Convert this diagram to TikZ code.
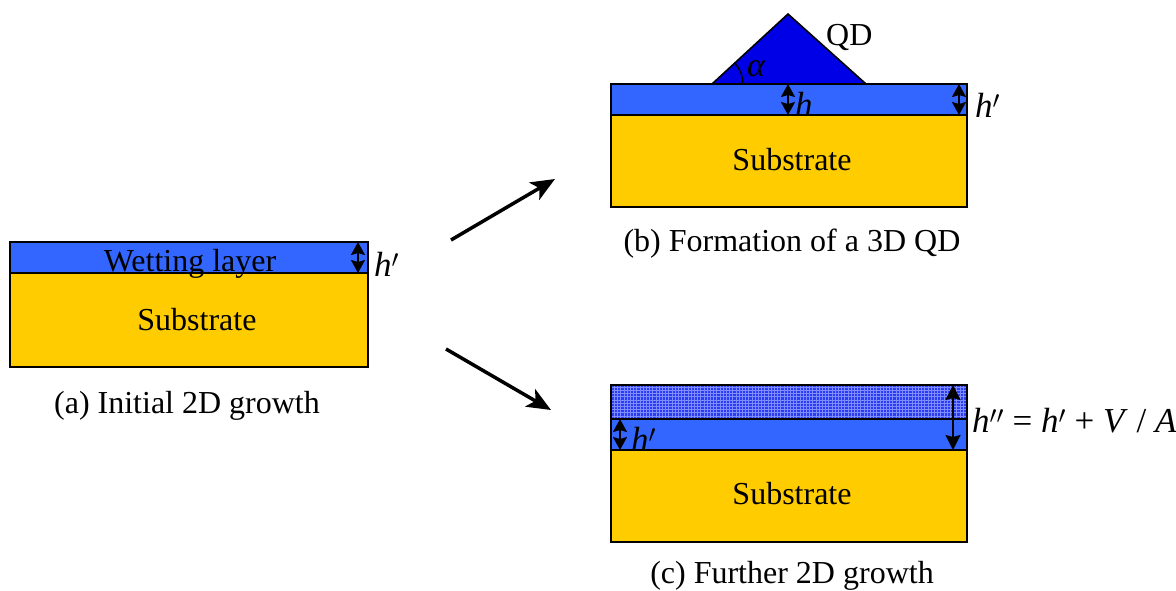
\documentclass[tikz,border=0pt]{standalone}
\usepackage{fontspec}
\setmainfont{Liberation Serif}
\usetikzlibrary{arrows.meta}
\definecolor{wl}{HTML}{3366FF}
\definecolor{qd}{HTML}{0000E6}
\definecolor{sub}{HTML}{FFCC00}
\definecolor{pat}{HTML}{2B3DF2}
\definecolor{patl}{HTML}{7F8CFF}
\tikzset{
  layer/.style={draw=black, line width=1.6pt},
  txt/.style={font=\fontsize{32}{38}\selectfont, inner sep=0pt},
  lbl/.style={font=\fontsize{35}{40}\selectfont, inner sep=0pt, anchor=west},
  dimarr/.style={line width=1.8pt, {Stealth[length=13pt,width=14pt,inset=2pt]}-{Stealth[length=13pt,width=14pt,inset=2pt]}},
  bigarr/.style={line width=3.5pt, -{Stealth[length=24pt,width=20pt,inset=6pt]}},
}
\begin{document}
\begin{tikzpicture}[x=1pt,y=-1pt]
\useasboundingbox (0,0) rectangle (1176,590);
% ---------- (a)
\filldraw[layer, fill=sub] (10,273) rectangle (368,367);
\filldraw[layer, fill=wl] (10,242) rectangle (368,273);
\node[txt] (wet) at (190,264) {Wetting layer};
\node[txt] (suba) at (197,320) {Substrate};
\coordinate (a1) at (358,242); \coordinate (a2) at (358,273);
\draw[dimarr] (a1) -- (a2);
\node[lbl] (hpa) at (374,264) {\textit{h}$'$};
\node[txt] (capa) at (187,406) {(a) Initial 2D growth};
% ---------- (b)
\filldraw[layer, fill=qd] (712,84) -- (788,14) -- (866,84) -- cycle;
\filldraw[layer, fill=sub] (611,115) rectangle (967,207);
\filldraw[layer, fill=wl] (611,84) rectangle (967,115);
\coordinate (qbl) at (712,84);
\draw[line width=1.4pt] ([xshift=31pt]qbl) arc[start angle=0, end angle=42.6, radius=31pt];
\node[font=\fontsize{34}{38}\selectfont\itshape, inner sep=0pt] (alpha) at (756,69) {α};
\node[txt, anchor=west] (qdl) at (826,37) {QD};
\coordinate (b1) at (788,84); \coordinate (b2) at (788,115);
\draw[dimarr] (b1) -- (b2);
\node[lbl] (hb) at (795,104) {\textit{h}};
\coordinate (b3) at (959,84); \coordinate (b4) at (959,115);
\draw[dimarr] (b3) -- (b4);
\node[lbl] (hpb) at (975,105) {\textit{h}$'$};
\node[txt] (subb) at (792,160) {Substrate};
\node[txt] (capb) at (792,244) {(b) Formation of a 3D QD};
% ---------- (c)
\filldraw[layer, fill=sub] (611,450) rectangle (967,542);
\fill[pat] (611,385) rectangle (967,419);
\begin{scope}
\clip (611,385) rectangle (967,419);
\draw[patl, line width=0.7pt, step=3.2pt] (611,385) grid (967,419);
\end{scope}
\draw[layer] (611,385) rectangle (967,419);
\filldraw[layer, fill=wl] (611,419) rectangle (967,450);
\coordinate (c1) at (620,419); \coordinate (c2) at (620,450);
\draw[dimarr] (c1) -- (c2);
\node[lbl] (hpc) at (631,439) {\textit{h}$'$};
\coordinate (c3) at (953,385); \coordinate (c4) at (953,450);
\draw[line width=2.2pt, {Stealth[length=15pt,width=15pt,inset=2pt]}-{Stealth[length=15pt,width=15pt,inset=2pt]}] (c3) -- (c4);
\node[lbl] (hpp) at (972,421) {\textit{h}$''$ = \textit{h}$'$ + \textit{V} / \textit{A}};
\node[txt] (subc) at (792,494) {Substrate};
\node[txt] (capc) at (792,576) {(c) Further 2D growth};
% ---------- big arrows
\coordinate (p1) at (451,240); \coordinate (p2) at (555,179);
\coordinate (p3) at (446,349); \coordinate (p4) at (551,410);
\draw[bigarr] (p1) -- (p2);
\draw[bigarr] (p3) -- (p4);
\end{tikzpicture}
\end{document}
